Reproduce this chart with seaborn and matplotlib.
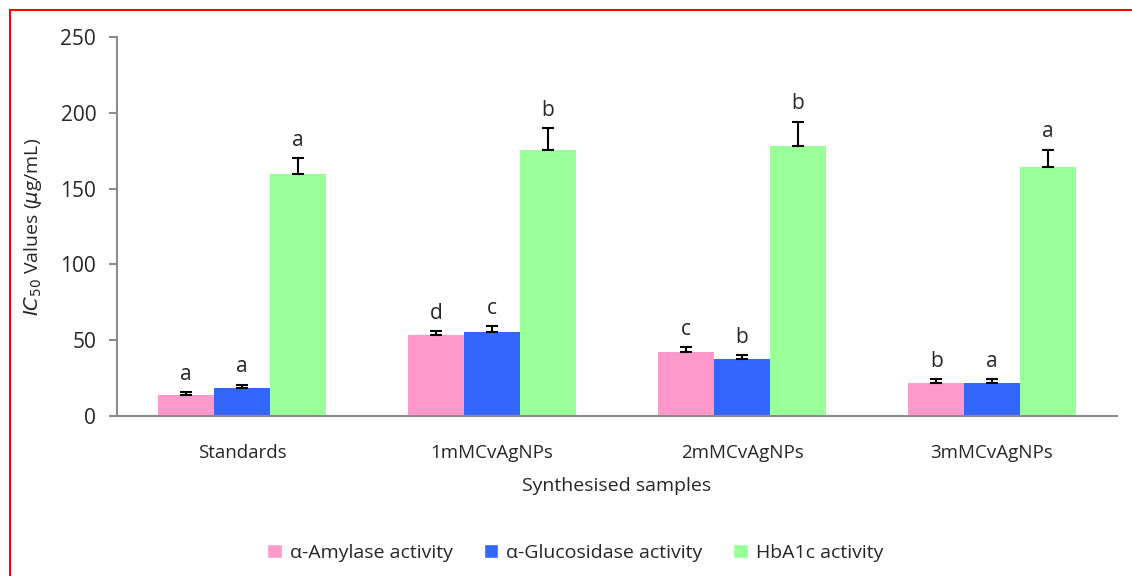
import matplotlib

matplotlib.use("Agg")
import matplotlib.pyplot as plt
import pandas as pd
import seaborn as sns
from matplotlib.patches import Rectangle

# --------------------------------------------------------------------------- #
# Data
# --------------------------------------------------------------------------- #
samples = ["Standards", "1mMCvAgNPs", "2mMCvAgNPs", "3mMCvAgNPs"]
series = ["α-Amylase activity", "α-Glucosidase activity", "HbA1c activity"]

amylase = [14.0, 53.5, 42.2, 21.8]
glucosidase = [18.5, 55.6, 37.6, 21.8]
hba1c = [159.6, 175.5, 178.0, 164.2]

# plus-only error bars (caps drawn at bar top and at the error end)
amylase_err = [1.5, 2.5, 3.0, 2.5]
glucosidase_err = [2.0, 3.5, 2.5, 2.5]
hba1c_err = [10.5, 14.3, 16.0, 11.3]

amylase_sig = ["a", "d", "c", "b"]
glucosidase_sig = ["a", "c", "b", "a"]
hba1c_sig = ["a", "b", "b", "a"]

colors = ["#FF99CC", "#3366FF", "#99FF99"]

values = [amylase, glucosidase, hba1c]
errors = [amylase_err, glucosidase_err, hba1c_err]
letters = [amylase_sig, glucosidase_sig, hba1c_sig]

df = pd.DataFrame(
    [
        {"sample": s, "series": name, "value": v}
        for name, vals in zip(series, values)
        for s, v in zip(samples, vals)
    ]
)

# --------------------------------------------------------------------------- #
# Plot
# --------------------------------------------------------------------------- #
sns.set_style("white")
plt.rcParams["font.family"] = ["Open Sans", "DejaVu Sans"]
plt.rcParams["mathtext.fontset"] = "dejavusans"

fig = plt.figure(figsize=(11.32, 5.76), dpi=100)
ax = fig.add_axes([0.1034, 0.2778, 0.8834, 0.658])

sns.barplot(
    data=df,
    x="sample",
    y="value",
    hue="series",
    order=samples,
    hue_order=series,
    palette=colors,
    width=0.67,
    errorbar=None,
    saturation=1,
    linewidth=0,
    ax=ax,
)

for container, vals, errs, sigs in zip(ax.containers, values, errors, letters):
    for bar, v, e, s in zip(container, vals, errs, sigs):
        xc = bar.get_x() + bar.get_width() / 2
        ax.errorbar(
            xc, v, yerr=[[0], [e]], fmt="none", ecolor="black",
            elinewidth=1.5, capsize=4.5, capthick=1.5, zorder=5,
        )
        ax.annotate(
            s, (xc, v + e), xytext=(0, 9), textcoords="offset points",
            ha="center", va="baseline", fontsize=15,
        )

ax.set_xlim(-0.5, 3.5)
ax.set_ylim(0, 250)
ax.set_yticks(range(0, 251, 50))

for side in ["top", "right"]:
    ax.spines[side].set_visible(False)
for side in ["left", "bottom"]:
    ax.spines[side].set_color("#8c8c8c")
    ax.spines[side].set_linewidth(1.5)

ax.tick_params(axis="y", left=True, length=6, width=1.5, color="#8c8c8c",
               pad=9, labelsize=15)
ax.tick_params(axis="x", bottom=False, length=0, pad=20, labelsize=13.5)

ax.set_xlabel("Synthesised samples", fontsize=14, labelpad=11)
ax.set_ylabel(r"$IC_{50}$ Values ($\mu$g/mL)", fontsize=14, labelpad=12)

ax.legend_.remove()
handles = [Rectangle((0, 0), 1, 1, facecolor=c) for c in colors]
fig.legend(
    handles, series, loc="center", bbox_to_anchor=(0.508, 0.04),
    ncol=3, frameon=False, fontsize=14, handlelength=0.75, handleheight=0.75,
    handletextpad=0.4, columnspacing=1.6,
)

# red frame around the figure (bottom edge is outside the picture)
fig.patches.append(
    Rectangle((10 / 1132, -0.05), 1.1, 1.05 - 10 / 576,
              transform=fig.transFigure, fill=False, edgecolor="red",
              linewidth=1.5, figure=fig)
)

fig.savefig("out.png", dpi=100)
plt.close(fig)
